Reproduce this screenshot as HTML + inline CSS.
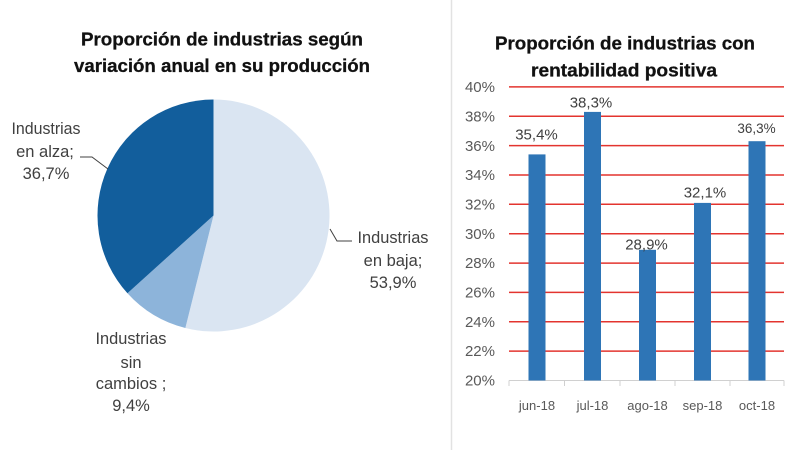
<!DOCTYPE html>
<html><head><meta charset="utf-8"><style>
html,body{margin:0;padding:0;background:#fff;}
svg{display:block;}
text{font-family:"Liberation Sans",sans-serif;}
</style></head><body>
<svg width="800" height="450" viewBox="0 0 800 450" xmlns="http://www.w3.org/2000/svg">
<rect width="800" height="450" fill="#fff"/>
<line x1="451.5" y1="0" x2="451.5" y2="450" stroke="#e2e2e2" stroke-width="1.5"/>

<!-- Left title -->
<g font-size="18.5" font-weight="bold" fill="#111" stroke="#111" stroke-width="0.3" text-anchor="middle">
<text x="222" y="45.5" textLength="282" lengthAdjust="spacingAndGlyphs">Proporción  de industrias según</text>
<text x="222" y="72" textLength="296" lengthAdjust="spacingAndGlyphs">variación anual  en su producción</text>
</g>

<!-- Pie -->
<path d="M213.5,215.5 L213.5,99.5 A116,116 0 1 1 185.35,328.03 Z" fill="#dae5f2"/>
<path d="M213.5,215.5 L185.35,328.03 A116,116 0 0 1 127.45,293.29 Z" fill="#8db4da"/>
<path d="M213.5,215.5 L127.45,293.29 A116,116 0 0 1 213.5,99.5 Z" fill="#125e9c"/>

<!-- Pie labels -->
<g font-size="16.5" fill="#404040" text-anchor="middle">
<text x="46" y="134" textLength="69" lengthAdjust="spacingAndGlyphs">Industrias</text>
<text x="45" y="157">en alza;</text>
<text x="46" y="179">36,7%</text>
<text x="393" y="243" textLength="71" lengthAdjust="spacingAndGlyphs">Industrias</text>
<text x="393" y="266">en baja;</text>
<text x="393" y="288">53,9%</text>
<text x="131" y="344" textLength="71" lengthAdjust="spacingAndGlyphs">Industrias</text>
<text x="131" y="368">sin</text>
<text x="131" y="389">cambios ;</text>
<text x="131" y="411">9,4%</text>
</g>
<polyline points="80,157 92,157 108,169" fill="none" stroke="#404040" stroke-width="1"/>
<polyline points="330,229 337,241 352,241" fill="none" stroke="#404040" stroke-width="1"/>

<!-- Right title -->
<g font-size="18.5" font-weight="bold" fill="#111" stroke="#111" stroke-width="0.3" text-anchor="middle">
<text x="625" y="49.5" textLength="260" lengthAdjust="spacingAndGlyphs">Proporción  de industrias con</text>
<text x="624" y="76.5" textLength="186" lengthAdjust="spacingAndGlyphs">rentabilidad positiva</text>
</g>

<!-- Gridlines -->
<g stroke="#e3342f" stroke-width="1.5">
<line x1="509" x2="784" y1="86.9" y2="86.9"/>
<line x1="509" x2="784" y1="116.3" y2="116.3"/>
<line x1="509" x2="784" y1="145.6" y2="145.6"/>
<line x1="509" x2="784" y1="175.0" y2="175.0"/>
<line x1="509" x2="784" y1="204.3" y2="204.3"/>
<line x1="509" x2="784" y1="233.7" y2="233.7"/>
<line x1="509" x2="784" y1="263.1" y2="263.1"/>
<line x1="509" x2="784" y1="292.4" y2="292.4"/>
<line x1="509" x2="784" y1="321.8" y2="321.8"/>
<line x1="509" x2="784" y1="351.1" y2="351.1"/>
</g>
<!-- x axis -->
<g stroke="#d0d0d0" stroke-width="1">
<line x1="509" x2="784" y1="380.5" y2="380.5"/>
<line x1="509" x2="509" y1="380.5" y2="386"/>
<line x1="564.5" x2="564.5" y1="380.5" y2="386"/>
<line x1="620" x2="620" y1="380.5" y2="386"/>
<line x1="675" x2="675" y1="380.5" y2="386"/>
<line x1="730" x2="730" y1="380.5" y2="386"/>
<line x1="784" x2="784" y1="380.5" y2="386"/>
</g>

<!-- Bars -->
<g fill="#2e75b6">
<rect x="528.5" y="154.4" width="17" height="226.1"/>
<rect x="584" y="111.9" width="17" height="268.6"/>
<rect x="639" y="249.8" width="17" height="130.7"/>
<rect x="694" y="202.9" width="17" height="177.6"/>
<rect x="748.5" y="141.2" width="17" height="239.3"/>
</g>

<!-- Y labels -->
<g font-size="15" fill="#595959" text-anchor="end">
<text x="495" y="92">40%</text>
<text x="495" y="121.5">38%</text>
<text x="495" y="151">36%</text>
<text x="495" y="180">34%</text>
<text x="495" y="209.5">32%</text>
<text x="495" y="239">30%</text>
<text x="495" y="268">28%</text>
<text x="495" y="297.5">26%</text>
<text x="495" y="327">24%</text>
<text x="495" y="356">22%</text>
<text x="495" y="385.5">20%</text>
</g>

<!-- Data labels -->
<g font-size="15" fill="#404040" text-anchor="middle">
<text x="536.5" y="139.5">35,4%</text>
<text x="591" y="107.5">38,3%</text>
<text x="646.5" y="249.5">28,9%</text>
<text x="705" y="197.5">32,1%</text>
<text x="756.5" y="133" font-size="13.5">36,3%</text>
</g>

<!-- Category labels -->
<g font-size="13" fill="#595959" text-anchor="middle">
<text x="537" y="410">jun-18</text>
<text x="592.5" y="410">jul-18</text>
<text x="647.5" y="410">ago-18</text>
<text x="702.5" y="410">sep-18</text>
<text x="757" y="410">oct-18</text>
</g>
</svg>
</body></html>
